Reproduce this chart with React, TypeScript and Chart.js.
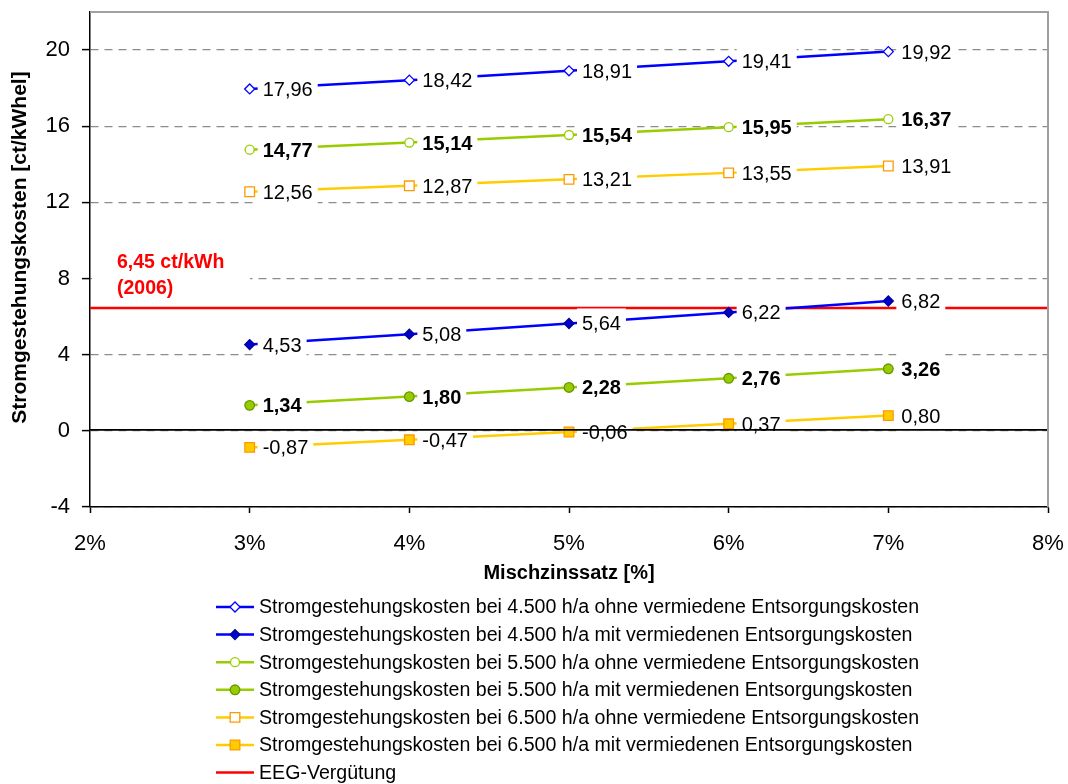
import React, { useEffect, useRef } from 'react';
import { Chart, registerables } from 'chart.js';

Chart.register(...registerables);

// ---- data ----
const rates = [3, 4, 5, 6, 7];
const s45Ohne = [17.96, 18.42, 18.91, 19.41, 19.92];
const s45Mit = [4.53, 5.08, 5.64, 6.22, 6.82];
const s55Ohne = [14.77, 15.14, 15.54, 15.95, 16.37];
const s55Mit = [1.34, 1.8, 2.28, 2.76, 3.26];
const s65Ohne = [12.56, 12.87, 13.21, 13.55, 13.91];
const s65Mit = [-0.87, -0.47, -0.06, 0.37, 0.8];
const eegValue = 6.45;
const eegRange = [2, 8];
const yTicks = [-4, 0, 4, 8, 12, 16, 20];
const seriesLabels = [
  'Stromgestehungskosten bei 4.500 h/a ohne vermiedene Entsorgungskosten',
  'Stromgestehungskosten bei 4.500 h/a mit vermiedenen Entsorgungskosten',
  'Stromgestehungskosten bei 5.500 h/a ohne vermiedene Entsorgungskosten',
  'Stromgestehungskosten bei 5.500 h/a mit vermiedenen Entsorgungskosten',
  'Stromgestehungskosten bei 6.500 h/a ohne vermiedene Entsorgungskosten',
  'Stromgestehungskosten bei 6.500 h/a mit vermiedenen Entsorgungskosten',
];
const eegLabel = 'EEG-Vergütung';
const eegNote = ['6,45 ct/kWh', '(2006)'];
const xTitle = 'Mischzinssatz [%]';
const yTitle = 'Stromgestehungskosten [ct/kWhel]';

const FONT = '"Liberation Sans", Arial, Helvetica, sans-serif';

function drawMarker(ctx: CanvasRenderingContext2D, style: string, x: number, y: number, r: number, fill: string, stroke: string) {
  ctx.save();
  ctx.beginPath();
  if (style === 'rectRot') {
    ctx.moveTo(x - r, y);
    ctx.lineTo(x, y - r);
    ctx.lineTo(x + r, y);
    ctx.lineTo(x, y + r);
    ctx.closePath();
  } else if (style === 'circle') {
    ctx.arc(x, y, r, 0, Math.PI * 2);
  } else if (style === 'rect') {
    const s = r * Math.SQRT1_2;
    ctx.rect(x - s, y - s, 2 * s, 2 * s);
  }
  ctx.fillStyle = fill;
  ctx.fill();
  ctx.lineWidth = 1.3;
  ctx.strokeStyle = stroke;
  ctx.stroke();
  ctx.restore();
}

const mk = (label: string, values: number[], line: string, style: string, fill: string, border: string, radius: number, bold: boolean) => ({
  label,
  data: rates.map((x, i) => ({ x, y: values[i] })),
  borderColor: line,
  backgroundColor: fill,
  pointBackgroundColor: fill,
  pointBorderColor: border,
  pointStyle: style,
  pointRadius: radius,
  pointBorderWidth: 1.3,
  borderWidth: 2.5,
  showLine: true,
  boldLabels: bold,
  hasLabels: true,
});

const customPlugin = {
  id: 'custom',
  afterDatasetsDraw(chart: any) {
    const { ctx, chartArea } = chart;
    ctx.save();
    // annotation
    ctx.fillStyle = '#fff';
    ctx.fillRect(chartArea.left + 2, 250, 158, 48);
    ctx.fillStyle = '#ff0000';
    ctx.font = `bold 19.5px ${FONT}`;
    ctx.textBaseline = 'middle';
    ctx.textAlign = 'left';
    ctx.fillText(eegNote[0], 117, 263);
    ctx.fillText(eegNote[1], 117, 289);
    // data labels
    chart.data.datasets.forEach((ds: any, i: number) => {
      if (!ds.hasLabels) return;
      const meta = chart.getDatasetMeta(i);
      ctx.font = `${ds.boldLabels ? 'bold ' : ''}20px ${FONT}`;
      meta.data.forEach((pt: any, j: number) => {
        const v = ds.data[j].y as number;
        const txt = v.toFixed(2).replace('.', ',');
        const w = ctx.measureText(txt).width;
        ctx.fillStyle = '#fff';
        ctx.fillRect(pt.x + 8, pt.y - 15, w + 10, 31);
        ctx.fillStyle = '#000';
        ctx.fillText(txt, pt.x + 13, pt.y + 1.5);
      });
    });
    // zero line on top
    const y0 = chart.scales.y.getPixelForValue(0);
    ctx.strokeStyle = '#000';
    ctx.lineWidth = 1.6;
    ctx.beginPath();
    ctx.moveTo(chartArea.left, y0 - 1);
    ctx.lineTo(chartArea.right, y0 - 1);
    ctx.stroke();
    ctx.restore();
  },
  afterDraw(chart: any) {
    const { ctx, chartArea } = chart;
    ctx.save();
    // top & right frame
    ctx.strokeStyle = '#a0a0a0';
    ctx.lineWidth = 2;
    ctx.beginPath();
    ctx.moveTo(chartArea.left, chartArea.top);
    ctx.lineTo(chartArea.right, chartArea.top);
    ctx.lineTo(chartArea.right, chartArea.bottom);
    ctx.stroke();
    // y title
    ctx.save();
    ctx.translate(20, (chartArea.top + chartArea.bottom) / 2 - 12);
    ctx.rotate(-Math.PI / 2);
    ctx.font = `bold 21px ${FONT}`;
    ctx.fillStyle = '#000';
    ctx.textAlign = 'center';
    ctx.textBaseline = 'middle';
    ctx.fillText(yTitle, 0, 0);
    ctx.restore();
    // legend
    const x0 = 216, x1 = 254, tx = 259;
    ctx.font = `19.6px ${FONT}`;
    ctx.textBaseline = 'middle';
    ctx.textAlign = 'left';
    chart.data.datasets.forEach((ds: any, i: number) => {
      const y = 607 + i * 27.6;
      ctx.strokeStyle = ds.borderColor;
      ctx.lineWidth = 2.5;
      ctx.beginPath();
      ctx.moveTo(x0, y);
      ctx.lineTo(x1, y);
      ctx.stroke();
      if (ds.pointRadius > 0) {
        drawMarker(ctx, ds.pointStyle, (x0 + x1) / 2, y, ds.pointRadius, ds.pointBackgroundColor, ds.pointBorderColor);
      }
      ctx.fillStyle = '#000';
      ctx.fillText(ds.label, tx, y + 1);
    });
    ctx.restore();
  },
};

export default function App() {
  const ref = useRef<HTMLCanvasElement>(null);
  useEffect(() => {
    if (!ref.current) return;
    const datasets: any[] = [
      mk(seriesLabels[0], s45Ohne, '#0000ff', 'rectRot', '#ffffff', '#0000ff', 5, false),
      mk(seriesLabels[1], s45Mit, '#0000ff', 'rectRot', '#0000cc', '#000099', 5, false),
      mk(seriesLabels[2], s55Ohne, '#99cc00', 'circle', '#ffffff', '#99cc00', 4.5, true),
      mk(seriesLabels[3], s55Mit, '#99cc00', 'circle', '#99cc00', '#669900', 4.8, true),
      mk(seriesLabels[4], s65Ohne, '#ffcc00', 'rect', '#ffffff', '#ff9900', 6.8, false),
      mk(seriesLabels[5], s65Mit, '#ffcc00', 'rect', '#ffcc00', '#ff9900', 6.8, false),
      {
        label: eegLabel,
        data: eegRange.map((x) => ({ x, y: eegValue })),
        borderColor: '#ff0000',
        backgroundColor: '#ff0000',
        borderWidth: 2.5,
        pointRadius: 0,
        showLine: true,
        hasLabels: false,
      },
    ];
    const chart = new Chart(ref.current, {
      type: 'line',
      data: { datasets },
      options: {
        animation: false,
        responsive: false,
        maintainAspectRatio: false,
        layout: { padding: { top: 12, right: 20, bottom: 194, left: 0 } },
        plugins: { legend: { display: false }, tooltip: { enabled: false } },
        elements: { line: { tension: 0 } },
        scales: {
          x: {
            type: 'linear',
            min: 2,
            max: 8,
            ticks: {
              stepSize: 1,
              callback: (v: any) => `${v}%`,
              color: '#000',
              font: { family: FONT, size: 22 },
              padding: 18,
            },
            grid: { drawOnChartArea: false, drawTicks: true, tickLength: 6, tickColor: '#000', tickWidth: 1.5 },
            border: { color: '#000', width: 1.5 },
            title: {
              display: true,
              text: xTitle,
              color: '#000',
              font: { family: FONT, size: 20, weight: 'bold' },
              padding: { top: 0, bottom: 5 },
            },
            afterFit: (s: any) => {
              s.height = 83;
              s.paddingLeft = 0;
              s.paddingRight = 0;
            },
          },
          y: {
            type: 'linear',
            min: -4,
            max: 22,
            afterBuildTicks: (axis: any) => { axis.ticks = yTicks.map((v) => ({ value: v })); },
            ticks: {
              color: '#000',
              font: { family: FONT, size: 22 },
              padding: 12,
            },
            grid: {
              color: '#8c8c8c',
              lineWidth: 1.2,
              tickColor: '#000',
              tickBorderDash: [],
              tickLength: 8,
              tickWidth: 1.5,
            },
            border: { color: '#000', width: 1.5, dash: [8, 6] },
            title: { display: false },
            afterFit: (s: any) => {
              s.width = 90;
              s.paddingTop = 0;
              s.paddingBottom = 0;
            },
          },
        },
      } as any,
      plugins: [customPlugin],
    });
    return () => chart.destroy();
  }, []);
  return (
    <div style={{ position: 'absolute', left: 0, top: 0, width: 1068, height: 784, background: '#fff' }}>
      <canvas ref={ref} width={1068} height={784} />
    </div>
  );
}
